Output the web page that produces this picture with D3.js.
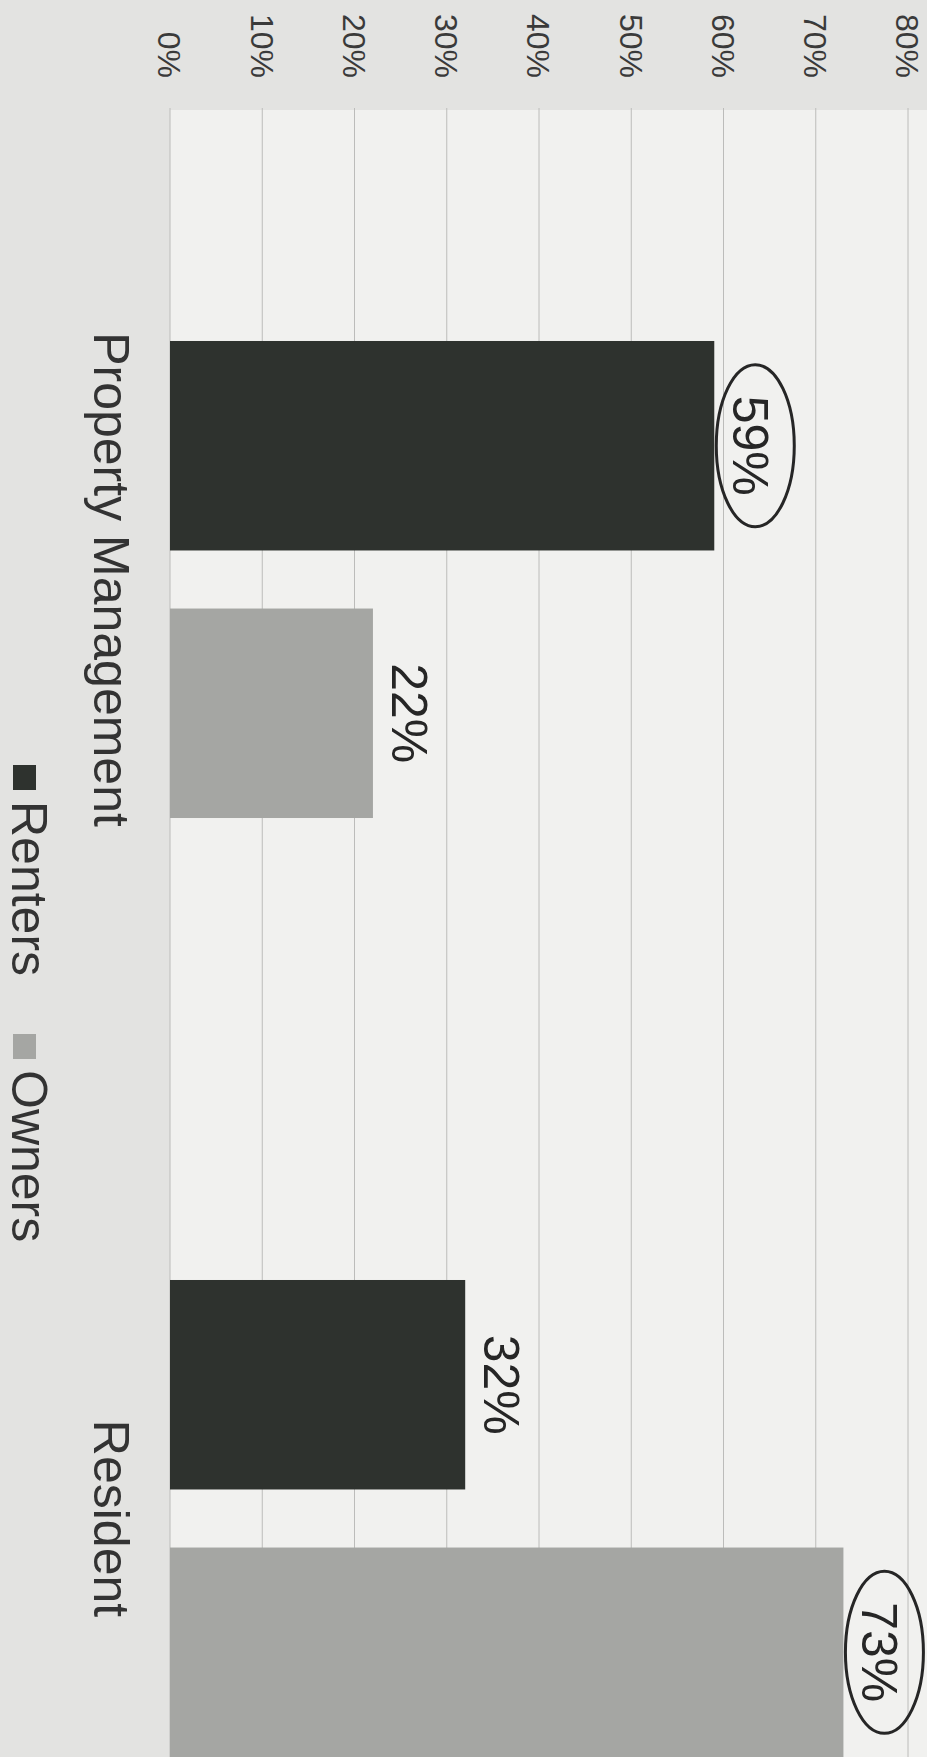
<!DOCTYPE html>
<html>
<head>
<meta charset="utf-8">
<script src="https://cdn.jsdelivr.net/npm/d3@7"></script>
<style>
  html, body { margin: 0; padding: 0; background: #e3e3e1; }
  svg { display: block; font-family: "Liberation Sans", Arial, sans-serif; }
</style>
</head>
<body>
<div id="chart"></div>
<script>
const categories = ["Property Management", "Resident"];
const seriesNames = ["Renters", "Owners"];
const renters = [59, 32];
const owners = [22, 73];
const ticks = [0, 10, 20, 30, 40, 50, 60, 70, 80];
const circled = [[true, false], [false, true]];

const W = 927, H = 1757;
const colors = { Renters: "#2e322e", Owners: "#a5a6a3" };

const svg = d3.select("#chart").append("svg")
  .attr("width", W)
  .attr("height", H);

// the chart is printed turned a quarter clockwise: values run left to right,
// categories run down the page, every text is rotated 90deg
const x = d3.scaleLinear().domain([0, 80]).range([170, 908]);
const y0 = d3.scaleBand().domain(categories).range([110, 1988])
  .paddingInner(0.492).paddingOuter(0.246);
const y1 = d3.scaleBand().domain(seriesNames).range([0, y0.bandwidth()])
  .paddingInner(0.217);

svg.append("rect")
  .attr("width", W).attr("height", H)
  .attr("fill", "#e3e3e1");

svg.append("rect")
  .attr("x", x(0)).attr("y", 110)
  .attr("width", W - x(0)).attr("height", H - 110)
  .attr("fill", "#f1f1ef");

// grid
svg.append("g")
  .selectAll("line")
  .data(ticks)
  .join("line")
  .attr("x1", d => x(d)).attr("x2", d => x(d))
  .attr("y1", 108).attr("y2", H)
  .attr("stroke", "#bcbcba")
  .attr("stroke-width", 1);

// tick labels
svg.append("g")
  .selectAll("text")
  .data(ticks)
  .join("text")
  .attr("transform", d => `translate(${x(d)},78) rotate(90)`)
  .attr("dy", "0.36em")
  .attr("text-anchor", "end")
  .attr("font-size", 32)
  .attr("fill", "#3a3a3a")
  .text(d => d + "%");

const rows = categories.map((c, i) => ({
  cat: c,
  values: [
    { key: "Renters", value: renters[i], ring: circled[i][0] },
    { key: "Owners", value: owners[i], ring: circled[i][1] }
  ]
}));

const groups = svg.append("g")
  .selectAll("g")
  .data(rows)
  .join("g")
  .attr("transform", d => `translate(0,${y0(d.cat)})`);

groups.selectAll("rect")
  .data(d => d.values)
  .join("rect")
  .attr("x", x(0))
  .attr("y", d => y1(d.key))
  .attr("width", d => x(d.value) - x(0))
  .attr("height", y1.bandwidth())
  .attr("fill", d => colors[d.key]);

const labels = groups.selectAll("g.val")
  .data(d => d.values)
  .join("g")
  .attr("class", "val")
  .attr("transform", d => `translate(${x(d.value) + 19},${y1(d.key) + y1.bandwidth() / 2})`);

labels.filter(d => d.ring)
  .append("ellipse")
  .attr("cx", 22).attr("cy", 0)
  .attr("rx", 39).attr("ry", 81)
  .attr("fill", "none")
  .attr("stroke", "#262626")
  .attr("stroke-width", 3);

labels.append("text")
  .attr("transform", "rotate(90)")
  .attr("text-anchor", "middle")
  .attr("font-size", 50)
  .attr("fill", "#262626")
  .text(d => d.value + "%");

// category labels
svg.append("g")
  .selectAll("text")
  .data(categories)
  .join("text")
  .attr("transform", d => `translate(94,${y0(d) + y0.bandwidth() / 2}) rotate(90)`)
  .attr("text-anchor", "middle")
  .attr("font-size", 50)
  .attr("fill", "#333")
  .text(d => d);

// legend
const legendY = [765, 1034];
const legend = svg.append("g")
  .selectAll("g")
  .data(seriesNames)
  .join("g")
  .attr("transform", (d, i) => `translate(0,${legendY[i]})`);

legend.append("rect")
  .attr("x", 13).attr("y", 0)
  .attr("width", 23).attr("height", 25)
  .attr("fill", d => colors[d]);

legend.append("text")
  .attr("transform", "translate(12,36) rotate(90)")
  .attr("font-size", 50)
  .attr("fill", "#333")
  .text(d => d);
</script>
</body>
</html>
